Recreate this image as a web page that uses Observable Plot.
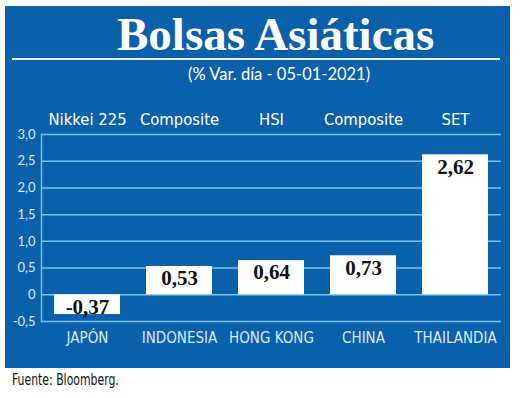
<!DOCTYPE html>
<html>
<head>
<meta charset="utf-8">
<script src="https://cdn.jsdelivr.net/npm/d3@7"></script>
<script src="https://cdn.jsdelivr.net/npm/@observablehq/plot@0.6"></script>
<style>
  body { margin: 0; background: #ffffff; width: 520px; height: 398px; position: relative; overflow: hidden; }
  #panel { position: absolute; left: 5px; top: 6px; width: 505px; height: 362px; background: #0b60ab; }
  #title { position: absolute; left: 112px; top: 5px; font-family: "Liberation Serif", serif; font-weight: bold; font-size: 47px; line-height: 47px; color: #ffffff; white-space: nowrap; }
  #rule { position: absolute; left: 7px; top: 52px; width: 488px; height: 2px; background: #e6f2fb; }
  #subtitle { position: absolute; left: 183px; top: 58px; font-family: Lato, sans-serif; font-size: 16.5px; line-height: 20px; color: #ffffff; white-space: nowrap; }
  #chart { position: absolute; left: 0px; top: 95px; }
  #caption { position: absolute; left: 12px; top: 371px; font-family: "DejaVu Sans Condensed", sans-serif; font-size: 15.5px; line-height: 18px; color: #111; white-space: nowrap; transform: scaleX(0.78); transform-origin: 0 0; }
</style>
</head>
<body>
<div id="panel">
  <div id="title">Bolsas Asiáticas</div>
  <div id="rule"></div>
  <div id="subtitle">(% Var. día - 05-01-2021)</div>
  <div id="chart"></div>
</div>
<div id="caption">Fuente: Bloomberg.</div>
<script>
const countries = ["JAPÓN", "INDONESIA", "HONG KONG", "CHINA", "THAILANDIA"];
const indices = ["Nikkei 225", "Composite", "HSI", "Composite", "SET"];
const values = [-0.37, 0.53, 0.64, 0.73, 2.62];
const valueLabels = ["-0,37", "0,53", "0,64", "0,73", "2,62"];
const yTicks = [-0.5, 0, 0.5, 1, 1.5, 2, 2.5, 3];
const yTickLabels = ["-0,5", "0", "0,5", "1,0", "1,5", "2,0", "2,5", "3,0"];

const data = countries.map((c, i) => ({country: c, index: indices[i], value: values[i], label: valueLabels[i]}));

const gridColor = "#74c4ec";
const tickColor = "#d6ebf8";
const condensed = "'DejaVu Sans Condensed', sans-serif";

const chart = Plot.plot({
  width: 505,
  height: 260,
  marginLeft: 36,
  marginRight: 9,
  marginTop: 33,
  marginBottom: 40,
  style: {background: "transparent", color: "#ffffff", overflow: "visible"},
  x: {domain: countries, paddingInner: 0.28, paddingOuter: 0.14},
  y: {domain: [-0.5, 3]},
  marks: [
    Plot.ruleY(yTicks, {stroke: gridColor, strokeWidth: 1.5}),
    Plot.frame({anchor: "left", stroke: gridColor, strokeWidth: 1.5}),
    Plot.barY(data, {x: "country", y: "value", fill: "#ffffff"}),
    Plot.text(data, {x: "country", y: d => Math.max(d.value, 0), text: "label", dy: 12, fill: "#111111",
      fontFamily: "'Liberation Serif', serif", fontWeight: "bold", fontSize: 21, lineAnchor: "middle"}),
    Plot.axisY(yTicks, {tickSize: 0, tickPadding: 6, tickFormat: d => yTickLabels[yTicks.indexOf(d)],
      fill: tickColor, fontSize: 13, fontFamily: "Lato, sans-serif", label: null}),
    Plot.axisX({anchor: "top", tickSize: 0, tickPadding: 10, tickFormat: d => indices[countries.indexOf(d)],
      fill: "#ffffff", stroke: "#ffffff", strokeWidth: 0.5, fontSize: 16.5, fontFamily: condensed, label: null}),
    Plot.axisX({anchor: "bottom", tickSize: 0, tickPadding: 11,
      fill: tickColor, fontSize: 15, fontFamily: condensed, label: null})
  ]
});
document.getElementById("chart").appendChild(chart);
</script>
</body>
</html>
